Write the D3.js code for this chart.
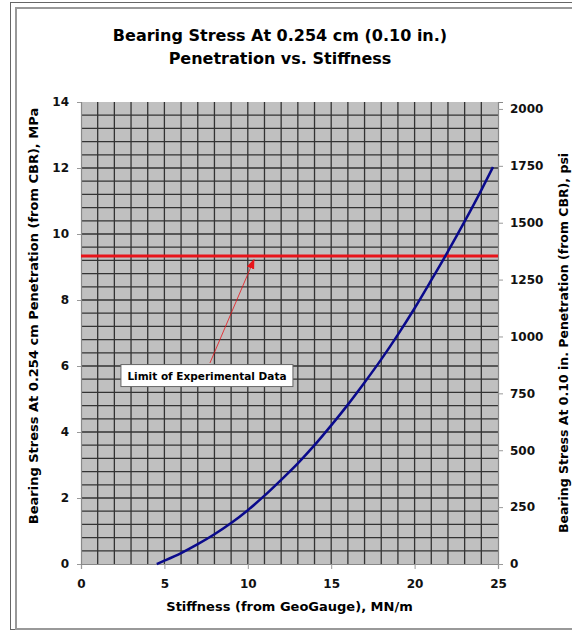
<!DOCTYPE html>
<html>
<head>
<meta charset="utf-8">
<script src="https://cdn.jsdelivr.net/npm/d3@7"></script>
<style>
  body { margin: 0; background: #fff; }
  svg { display: block; font-family: "DejaVu Sans", Verdana, sans-serif; }
</style>
</head>
<body>
<div id="chart"></div>
<script>
// curve: stiffness (MN/m) vs bearing stress (MPa)
const stiffness = [4.54, 5, 6, 7, 8, 9, 10, 11, 12, 13, 14, 15, 16, 17, 18, 19, 20, 21, 22, 23, 24, 24.7];
const stress = [0, 0.1, 0.33, 0.6, 0.9, 1.24, 1.63, 2.07, 2.55, 3.05, 3.6, 4.2, 4.83, 5.5, 6.2, 6.95, 7.75, 8.6, 9.47, 10.38, 11.33, 12.03];

const limitStress = 9.33; // MPa, red limit line
const xTicks = [0, 5, 10, 15, 20, 25];
const yTicks = [0, 2, 4, 6, 8, 10, 12, 14];
const psiTicks = [0, 250, 500, 750, 1000, 1250, 1500, 1750, 2000];
const MPA_TO_PSI = 145.038;

const W = 572, H = 633;
const margin = {top: 102, right: 74, bottom: 69, left: 81},
    width = W - margin.left - margin.right,
    height = H - margin.top - margin.bottom;

const svg = d3.select("#chart")
    .append("svg")
    .attr("width", W)
    .attr("height", H);

// frame around the chart
svg.append("rect")
    .attr("x", 10.5).attr("y", 2.5)
    .attr("width", W).attr("height", 627)
    .attr("fill", "none").attr("stroke", "#666").attr("stroke-width", 1);
svg.append("rect")
    .attr("x", 16).attr("y", 8)
    .attr("width", W).attr("height", 621)
    .attr("fill", "none").attr("stroke", "#999").attr("stroke-width", 2);

// title
svg.append("text")
    .attr("x", 280).attr("y", 41)
    .attr("text-anchor", "middle")
    .style("font-size", "16px").style("font-weight", "bold")
    .text("Bearing Stress At 0.254 cm (0.10 in.)");
svg.append("text")
    .attr("x", 280).attr("y", 64)
    .attr("text-anchor", "middle")
    .style("font-size", "16px").style("font-weight", "bold")
    .text("Penetration vs. Stiffness");

const g = svg.append("g")
    .attr("transform", `translate(${margin.left},${margin.top})`);

const x = d3.scaleLinear().domain([0, 25]).range([0, width]);
const y = d3.scaleLinear().domain([0, 14]).range([height, 0]);
const yPsi = d3.scaleLinear().domain([0, 14 * MPA_TO_PSI]).range([height, 0]);

// plot background
g.append("rect")
    .attr("width", width).attr("height", height)
    .attr("fill", "#c0c0c0");

// grid: every 1 MN/m and every 0.4 MPa
g.append("g")
    .selectAll("line")
    .data(d3.range(1, 25))
    .join("line")
    .attr("x1", d => x(d)).attr("x2", d => x(d))
    .attr("y1", 0).attr("y2", height)
    .attr("stroke", "#333").attr("stroke-width", 1.3);
g.append("g")
    .selectAll("line")
    .data(d3.range(1, 35).map(i => i * 0.4))
    .join("line")
    .attr("x1", 0).attr("x2", width)
    .attr("y1", d => y(d)).attr("y2", d => y(d))
    .attr("stroke", "#333").attr("stroke-width", 1.3);

// axes
const xAxis = g.append("g")
    .attr("transform", `translate(0,${height})`)
    .call(d3.axisBottom(x).tickValues(xTicks).tickSize(5).tickPadding(10));
const yAxis = g.append("g")
    .call(d3.axisLeft(y).tickValues(yTicks).tickSize(4).tickPadding(8));
const yAxisR = g.append("g")
    .attr("transform", `translate(${width},0)`)
    .call(d3.axisRight(yPsi).tickValues(psiTicks).tickFormat(d3.format("d")).tickSize(5).tickPadding(7));

[xAxis, yAxis, yAxisR].forEach(a => {
    a.select(".domain").attr("stroke", "#888").attr("stroke-width", 1.2);
    a.selectAll(".tick line").attr("stroke", "#999");
    a.selectAll(".tick text")
        .style("font-size", "12px").style("font-weight", "bold")
        .style("font-family", "DejaVu Sans, Verdana, sans-serif")
        .attr("fill", "#111");
});

// limit line
g.append("line")
    .attr("x1", 0).attr("x2", width)
    .attr("y1", y(limitStress)).attr("y2", y(limitStress))
    .attr("stroke", "#e8141a").attr("stroke-width", 3);

// data curve
const line = d3.line()
    .x((d, i) => x(stiffness[i]))
    .y(d => y(d))
    .curve(d3.curveMonotoneX);
g.append("path")
    .datum(stress)
    .attr("d", line)
    .attr("fill", "none")
    .attr("stroke", "#0a0a8c")
    .attr("stroke-width", 2.5);

// annotation
svg.append("defs").append("marker")
    .attr("id", "arrow")
    .attr("viewBox", "0 0 10 10")
    .attr("refX", 9).attr("refY", 5)
    .attr("markerWidth", 10).attr("markerHeight", 10)
    .attr("markerUnits", "userSpaceOnUse")
    .attr("orient", "auto")
    .append("path")
    .attr("d", "M0,1 L10,5 L0,9 z")
    .attr("fill", "#e8141a");

g.append("line")
    .attr("x1", x(7.73)).attr("y1", y(6.09))
    .attr("x2", x(10.37)).attr("y2", y(9.22))
    .attr("stroke", "#e8141a").attr("stroke-width", 0.8)
    .attr("marker-end", "url(#arrow)");

const boxX = x(7.55), boxY = y(5.71);
g.append("rect")
    .attr("x", boxX - 86).attr("y", boxY - 11)
    .attr("width", 172).attr("height", 22)
    .attr("fill", "#fff").attr("stroke", "#666").attr("stroke-width", 1);
g.append("text")
    .attr("x", boxX).attr("y", boxY + 4)
    .attr("text-anchor", "middle")
    .style("font-size", "10.5px").style("font-weight", "bold")
    .text("Limit of Experimental Data");

// axis titles
svg.append("text")
    .attr("x", margin.left + width / 2).attr("y", 611)
    .attr("text-anchor", "middle")
    .style("font-size", "13px").style("font-weight", "bold")
    .text("Stiffness (from GeoGauge), MN/m");
svg.append("text")
    .attr("transform", "translate(38,316) rotate(-90)")
    .attr("text-anchor", "middle")
    .style("font-size", "13px").style("font-weight", "bold")
    .text("Bearing Stress At 0.254 cm Penetration (from CBR), MPa");
svg.append("text")
    .attr("transform", "translate(568,343) rotate(-90)")
    .attr("text-anchor", "middle")
    .style("font-size", "12.5px").style("font-weight", "bold")
    .text("Bearing Stress At 0.10 in. Penetration (from CBR), psi");
</script>
</body>
</html>
